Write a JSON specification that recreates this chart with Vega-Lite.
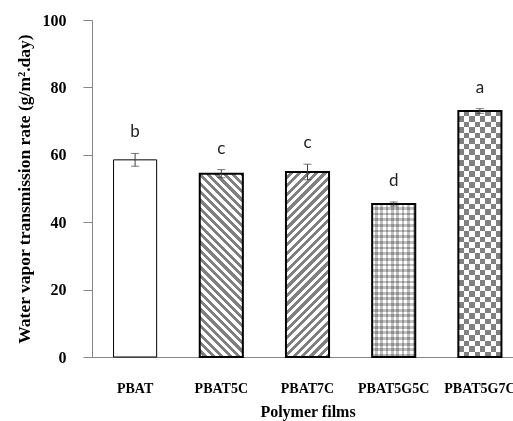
{
  "$schema": "https://vega.github.io/schema/vega-lite/v6.json",
  "width": 431,
  "height": 337,
  "autosize": {"type": "none"},
  "padding": {"left": 92, "top": 20, "right": 0, "bottom": 64},
  "background": "white",
  "config": {
    "view": {"stroke": null},
    "axis": {"grid": false, "domainColor": "#868686", "tickColor": "#868686", "labelColor": "#000", "titleColor": "#000", "labelFont": "Liberation Serif", "labelFontWeight": "bold", "titleFont": "Liberation Serif", "titleFontWeight": "bold"}
  },
  "data": {"values": [
    {"Film": "PBAT", "mean": 58.5, "lower": 56.6, "upper": 60.4, "letter": "b"},
    {"Film": "PBAT5C", "mean": 54.4, "lower": 53.2, "upper": 55.6, "letter": "c"},
    {"Film": "PBAT7C", "mean": 54.9, "lower": 52.6, "upper": 57.2, "letter": "c"},
    {"Film": "PBAT5G5C", "mean": 45.4, "lower": 44.8, "upper": 46.0, "letter": "d"},
    {"Film": "PBAT5G7C", "mean": 73.0, "lower": 72.3, "upper": 73.7, "letter": "a"}
  ]},
  "encoding": {
    "x": {"field": "Film", "type": "nominal", "sort": ["PBAT", "PBAT5C", "PBAT7C", "PBAT5G5C", "PBAT5G7C"], "scale": {"domain": ["PBAT", "PBAT5C", "PBAT7C", "PBAT5G5C", "PBAT5G7C"], "paddingInner": 0.5, "paddingOuter": 0.25},
      "axis": {"title": "Polymer films", "labelAngle": 0, "ticks": false, "tickSize": 0, "labelPadding": 24, "labelFontSize": 14, "titleFontSize": 16, "titlePadding": 8}},
    "y": {"field": "mean", "type": "quantitative", "title": "Water vapor transmission rate (g/m².day)", "scale": {"domain": [0, 100]},
      "axis": {"values": [0, 20, 40, 60, 80, 100], "tickSize": 9, "labelPadding": 17, "labelFontSize": 16, "titleFontSize": 17.5, "titlePadding": 9}}
  },
  "layer": [
    {"transform": [{"filter": "datum.Film === 'PBAT5C'"}],
     "mark": {"type": "bar", "stroke": null, "fill": {"gradient": "linear", "x1": 0, "y1": 1, "x2": 0.2752, "y2": -0.1705, "stops": [
{"offset":0,"color":"#fff"},{"offset":0.0185,"color":"#fff"},{"offset":0.0185,"color":"#808080"},{"offset":0.037,"color":"#808080"},{"offset":0.037,"color":"#fff"},{"offset":0.0556,"color":"#fff"},{"offset":0.0556,"color":"#808080"},{"offset":0.0741,"color":"#808080"},{"offset":0.0741,"color":"#fff"},{"offset":0.0926,"color":"#fff"},{"offset":0.0926,"color":"#808080"},{"offset":0.1111,"color":"#808080"},{"offset":0.1111,"color":"#fff"},{"offset":0.1296,"color":"#fff"},{"offset":0.1296,"color":"#808080"},{"offset":0.1481,"color":"#808080"},{"offset":0.1481,"color":"#fff"},{"offset":0.1667,"color":"#fff"},{"offset":0.1667,"color":"#808080"},{"offset":0.1852,"color":"#808080"},{"offset":0.1852,"color":"#fff"},{"offset":0.2037,"color":"#fff"},{"offset":0.2037,"color":"#808080"},{"offset":0.2222,"color":"#808080"},{"offset":0.2222,"color":"#fff"},{"offset":0.2407,"color":"#fff"},{"offset":0.2407,"color":"#808080"},{"offset":0.2593,"color":"#808080"},{"offset":0.2593,"color":"#fff"},{"offset":0.2778,"color":"#fff"},{"offset":0.2778,"color":"#808080"},{"offset":0.2963,"color":"#808080"},{"offset":0.2963,"color":"#fff"},{"offset":0.3148,"color":"#fff"},{"offset":0.3148,"color":"#808080"},{"offset":0.3333,"color":"#808080"},{"offset":0.3333,"color":"#fff"},{"offset":0.3519,"color":"#fff"},{"offset":0.3519,"color":"#808080"},{"offset":0.3704,"color":"#808080"},{"offset":0.3704,"color":"#fff"},{"offset":0.3889,"color":"#fff"},{"offset":0.3889,"color":"#808080"},{"offset":0.4074,"color":"#808080"},{"offset":0.4074,"color":"#fff"},{"offset":0.4259,"color":"#fff"},{"offset":0.4259,"color":"#808080"},{"offset":0.4444,"color":"#808080"},{"offset":0.4444,"color":"#fff"},{"offset":0.463,"color":"#fff"},{"offset":0.463,"color":"#808080"},{"offset":0.4815,"color":"#808080"},{"offset":0.4815,"color":"#fff"},{"offset":0.5,"color":"#fff"},{"offset":0.5,"color":"#808080"},{"offset":0.5185,"color":"#808080"},{"offset":0.5185,"color":"#fff"},{"offset":0.537,"color":"#fff"},{"offset":0.537,"color":"#808080"},{"offset":0.5556,"color":"#808080"},{"offset":0.5556,"color":"#fff"},{"offset":0.5741,"color":"#fff"},{"offset":0.5741,"color":"#808080"},{"offset":0.5926,"color":"#808080"},{"offset":0.5926,"color":"#fff"},{"offset":0.6111,"color":"#fff"},{"offset":0.6111,"color":"#808080"},{"offset":0.6296,"color":"#808080"},{"offset":0.6296,"color":"#fff"},{"offset":0.6481,"color":"#fff"},{"offset":0.6481,"color":"#808080"},{"offset":0.6667,"color":"#808080"},{"offset":0.6667,"color":"#fff"},{"offset":0.6852,"color":"#fff"},{"offset":0.6852,"color":"#808080"},{"offset":0.7037,"color":"#808080"},{"offset":0.7037,"color":"#fff"},{"offset":0.7222,"color":"#fff"},{"offset":0.7222,"color":"#808080"},{"offset":0.7407,"color":"#808080"},{"offset":0.7407,"color":"#fff"},{"offset":0.7593,"color":"#fff"},{"offset":0.7593,"color":"#808080"},{"offset":0.7778,"color":"#808080"},{"offset":0.7778,"color":"#fff"},{"offset":0.7963,"color":"#fff"},{"offset":0.7963,"color":"#808080"},{"offset":0.8148,"color":"#808080"},{"offset":0.8148,"color":"#fff"},{"offset":0.8333,"color":"#fff"},{"offset":0.8333,"color":"#808080"},{"offset":0.8519,"color":"#808080"},{"offset":0.8519,"color":"#fff"},{"offset":0.8704,"color":"#fff"},{"offset":0.8704,"color":"#808080"},{"offset":0.8889,"color":"#808080"},{"offset":0.8889,"color":"#fff"},{"offset":0.9074,"color":"#fff"},{"offset":0.9074,"color":"#808080"},{"offset":0.9259,"color":"#808080"},{"offset":0.9259,"color":"#fff"},{"offset":0.9444,"color":"#fff"},{"offset":0.9444,"color":"#808080"},{"offset":0.963,"color":"#808080"},{"offset":0.963,"color":"#fff"},{"offset":0.9815,"color":"#fff"},{"offset":0.9815,"color":"#808080"},{"offset":1,"color":"#808080"}
     ]}}},
    {"transform": [{"filter": "datum.Film === 'PBAT7C'"}],
     "mark": {"type": "bar", "stroke": null, "fill": {"gradient": "linear", "x1": 0, "y1": 0, "x2": 0.2725, "y2": 1.1695, "stops": [
{"offset":0,"color":"#fff"},{"offset":0.0185,"color":"#fff"},{"offset":0.0185,"color":"#808080"},{"offset":0.037,"color":"#808080"},{"offset":0.037,"color":"#fff"},{"offset":0.0556,"color":"#fff"},{"offset":0.0556,"color":"#808080"},{"offset":0.0741,"color":"#808080"},{"offset":0.0741,"color":"#fff"},{"offset":0.0926,"color":"#fff"},{"offset":0.0926,"color":"#808080"},{"offset":0.1111,"color":"#808080"},{"offset":0.1111,"color":"#fff"},{"offset":0.1296,"color":"#fff"},{"offset":0.1296,"color":"#808080"},{"offset":0.1481,"color":"#808080"},{"offset":0.1481,"color":"#fff"},{"offset":0.1667,"color":"#fff"},{"offset":0.1667,"color":"#808080"},{"offset":0.1852,"color":"#808080"},{"offset":0.1852,"color":"#fff"},{"offset":0.2037,"color":"#fff"},{"offset":0.2037,"color":"#808080"},{"offset":0.2222,"color":"#808080"},{"offset":0.2222,"color":"#fff"},{"offset":0.2407,"color":"#fff"},{"offset":0.2407,"color":"#808080"},{"offset":0.2593,"color":"#808080"},{"offset":0.2593,"color":"#fff"},{"offset":0.2778,"color":"#fff"},{"offset":0.2778,"color":"#808080"},{"offset":0.2963,"color":"#808080"},{"offset":0.2963,"color":"#fff"},{"offset":0.3148,"color":"#fff"},{"offset":0.3148,"color":"#808080"},{"offset":0.3333,"color":"#808080"},{"offset":0.3333,"color":"#fff"},{"offset":0.3519,"color":"#fff"},{"offset":0.3519,"color":"#808080"},{"offset":0.3704,"color":"#808080"},{"offset":0.3704,"color":"#fff"},{"offset":0.3889,"color":"#fff"},{"offset":0.3889,"color":"#808080"},{"offset":0.4074,"color":"#808080"},{"offset":0.4074,"color":"#fff"},{"offset":0.4259,"color":"#fff"},{"offset":0.4259,"color":"#808080"},{"offset":0.4444,"color":"#808080"},{"offset":0.4444,"color":"#fff"},{"offset":0.463,"color":"#fff"},{"offset":0.463,"color":"#808080"},{"offset":0.4815,"color":"#808080"},{"offset":0.4815,"color":"#fff"},{"offset":0.5,"color":"#fff"},{"offset":0.5,"color":"#808080"},{"offset":0.5185,"color":"#808080"},{"offset":0.5185,"color":"#fff"},{"offset":0.537,"color":"#fff"},{"offset":0.537,"color":"#808080"},{"offset":0.5556,"color":"#808080"},{"offset":0.5556,"color":"#fff"},{"offset":0.5741,"color":"#fff"},{"offset":0.5741,"color":"#808080"},{"offset":0.5926,"color":"#808080"},{"offset":0.5926,"color":"#fff"},{"offset":0.6111,"color":"#fff"},{"offset":0.6111,"color":"#808080"},{"offset":0.6296,"color":"#808080"},{"offset":0.6296,"color":"#fff"},{"offset":0.6481,"color":"#fff"},{"offset":0.6481,"color":"#808080"},{"offset":0.6667,"color":"#808080"},{"offset":0.6667,"color":"#fff"},{"offset":0.6852,"color":"#fff"},{"offset":0.6852,"color":"#808080"},{"offset":0.7037,"color":"#808080"},{"offset":0.7037,"color":"#fff"},{"offset":0.7222,"color":"#fff"},{"offset":0.7222,"color":"#808080"},{"offset":0.7407,"color":"#808080"},{"offset":0.7407,"color":"#fff"},{"offset":0.7593,"color":"#fff"},{"offset":0.7593,"color":"#808080"},{"offset":0.7778,"color":"#808080"},{"offset":0.7778,"color":"#fff"},{"offset":0.7963,"color":"#fff"},{"offset":0.7963,"color":"#808080"},{"offset":0.8148,"color":"#808080"},{"offset":0.8148,"color":"#fff"},{"offset":0.8333,"color":"#fff"},{"offset":0.8333,"color":"#808080"},{"offset":0.8519,"color":"#808080"},{"offset":0.8519,"color":"#fff"},{"offset":0.8704,"color":"#fff"},{"offset":0.8704,"color":"#808080"},{"offset":0.8889,"color":"#808080"},{"offset":0.8889,"color":"#fff"},{"offset":0.9074,"color":"#fff"},{"offset":0.9074,"color":"#808080"},{"offset":0.9259,"color":"#808080"},{"offset":0.9259,"color":"#fff"},{"offset":0.9444,"color":"#fff"},{"offset":0.9444,"color":"#808080"},{"offset":0.963,"color":"#808080"},{"offset":0.963,"color":"#fff"},{"offset":0.9815,"color":"#fff"},{"offset":0.9815,"color":"#808080"},{"offset":1,"color":"#808080"}
     ]}}},
    {"transform": [{"filter": "datum.Film === 'PBAT5G5C'"}],
     "mark": {"type": "bar", "stroke": null, "fill": {"gradient": "linear", "x1": 0, "y1": 0, "x2": 1, "y2": 0, "stops": [
{"offset":0,"color":"#fff"},{"offset":0.0625,"color":"#fff"},{"offset":0.0625,"color":"#c0c0c0"},{"offset":0.125,"color":"#c0c0c0"},{"offset":0.125,"color":"#fff"},{"offset":0.1875,"color":"#fff"},{"offset":0.1875,"color":"#c0c0c0"},{"offset":0.25,"color":"#c0c0c0"},{"offset":0.25,"color":"#fff"},{"offset":0.3125,"color":"#fff"},{"offset":0.3125,"color":"#c0c0c0"},{"offset":0.375,"color":"#c0c0c0"},{"offset":0.375,"color":"#fff"},{"offset":0.4375,"color":"#fff"},{"offset":0.4375,"color":"#c0c0c0"},{"offset":0.5,"color":"#c0c0c0"},{"offset":0.5,"color":"#fff"},{"offset":0.5625,"color":"#fff"},{"offset":0.5625,"color":"#c0c0c0"},{"offset":0.625,"color":"#c0c0c0"},{"offset":0.625,"color":"#fff"},{"offset":0.6875,"color":"#fff"},{"offset":0.6875,"color":"#c0c0c0"},{"offset":0.75,"color":"#c0c0c0"},{"offset":0.75,"color":"#fff"},{"offset":0.8125,"color":"#fff"},{"offset":0.8125,"color":"#c0c0c0"},{"offset":0.875,"color":"#c0c0c0"},{"offset":0.875,"color":"#fff"},{"offset":0.9375,"color":"#fff"},{"offset":0.9375,"color":"#c0c0c0"},{"offset":1,"color":"#c0c0c0"}
     ]}}},
    {"transform": [{"filter": "datum.Film === 'PBAT5G5C'"}],
     "mark": {"type": "bar", "stroke": null, "blend": "multiply", "fill": {"gradient": "linear", "x1": 0, "y1": 0, "x2": 0, "y2": 1, "stops": [
{"offset":0,"color":"#fff"},{"offset":0.0185,"color":"#fff"},{"offset":0.0185,"color":"#c0c0c0"},{"offset":0.037,"color":"#c0c0c0"},{"offset":0.037,"color":"#fff"},{"offset":0.0556,"color":"#fff"},{"offset":0.0556,"color":"#c0c0c0"},{"offset":0.0741,"color":"#c0c0c0"},{"offset":0.0741,"color":"#fff"},{"offset":0.0926,"color":"#fff"},{"offset":0.0926,"color":"#c0c0c0"},{"offset":0.1111,"color":"#c0c0c0"},{"offset":0.1111,"color":"#fff"},{"offset":0.1296,"color":"#fff"},{"offset":0.1296,"color":"#c0c0c0"},{"offset":0.1481,"color":"#c0c0c0"},{"offset":0.1481,"color":"#fff"},{"offset":0.1667,"color":"#fff"},{"offset":0.1667,"color":"#c0c0c0"},{"offset":0.1852,"color":"#c0c0c0"},{"offset":0.1852,"color":"#fff"},{"offset":0.2037,"color":"#fff"},{"offset":0.2037,"color":"#c0c0c0"},{"offset":0.2222,"color":"#c0c0c0"},{"offset":0.2222,"color":"#fff"},{"offset":0.2407,"color":"#fff"},{"offset":0.2407,"color":"#c0c0c0"},{"offset":0.2593,"color":"#c0c0c0"},{"offset":0.2593,"color":"#fff"},{"offset":0.2778,"color":"#fff"},{"offset":0.2778,"color":"#c0c0c0"},{"offset":0.2963,"color":"#c0c0c0"},{"offset":0.2963,"color":"#fff"},{"offset":0.3148,"color":"#fff"},{"offset":0.3148,"color":"#c0c0c0"},{"offset":0.3333,"color":"#c0c0c0"},{"offset":0.3333,"color":"#fff"},{"offset":0.3519,"color":"#fff"},{"offset":0.3519,"color":"#c0c0c0"},{"offset":0.3704,"color":"#c0c0c0"},{"offset":0.3704,"color":"#fff"},{"offset":0.3889,"color":"#fff"},{"offset":0.3889,"color":"#c0c0c0"},{"offset":0.4074,"color":"#c0c0c0"},{"offset":0.4074,"color":"#fff"},{"offset":0.4259,"color":"#fff"},{"offset":0.4259,"color":"#c0c0c0"},{"offset":0.4444,"color":"#c0c0c0"},{"offset":0.4444,"color":"#fff"},{"offset":0.463,"color":"#fff"},{"offset":0.463,"color":"#c0c0c0"},{"offset":0.4815,"color":"#c0c0c0"},{"offset":0.4815,"color":"#fff"},{"offset":0.5,"color":"#fff"},{"offset":0.5,"color":"#c0c0c0"},{"offset":0.5185,"color":"#c0c0c0"},{"offset":0.5185,"color":"#fff"},{"offset":0.537,"color":"#fff"},{"offset":0.537,"color":"#c0c0c0"},{"offset":0.5556,"color":"#c0c0c0"},{"offset":0.5556,"color":"#fff"},{"offset":0.5741,"color":"#fff"},{"offset":0.5741,"color":"#c0c0c0"},{"offset":0.5926,"color":"#c0c0c0"},{"offset":0.5926,"color":"#fff"},{"offset":0.6111,"color":"#fff"},{"offset":0.6111,"color":"#c0c0c0"},{"offset":0.6296,"color":"#c0c0c0"},{"offset":0.6296,"color":"#fff"},{"offset":0.6481,"color":"#fff"},{"offset":0.6481,"color":"#c0c0c0"},{"offset":0.6667,"color":"#c0c0c0"},{"offset":0.6667,"color":"#fff"},{"offset":0.6852,"color":"#fff"},{"offset":0.6852,"color":"#c0c0c0"},{"offset":0.7037,"color":"#c0c0c0"},{"offset":0.7037,"color":"#fff"},{"offset":0.7222,"color":"#fff"},{"offset":0.7222,"color":"#c0c0c0"},{"offset":0.7407,"color":"#c0c0c0"},{"offset":0.7407,"color":"#fff"},{"offset":0.7593,"color":"#fff"},{"offset":0.7593,"color":"#c0c0c0"},{"offset":0.7778,"color":"#c0c0c0"},{"offset":0.7778,"color":"#fff"},{"offset":0.7963,"color":"#fff"},{"offset":0.7963,"color":"#c0c0c0"},{"offset":0.8148,"color":"#c0c0c0"},{"offset":0.8148,"color":"#fff"},{"offset":0.8333,"color":"#fff"},{"offset":0.8333,"color":"#c0c0c0"},{"offset":0.8519,"color":"#c0c0c0"},{"offset":0.8519,"color":"#fff"},{"offset":0.8704,"color":"#fff"},{"offset":0.8704,"color":"#c0c0c0"},{"offset":0.8889,"color":"#c0c0c0"},{"offset":0.8889,"color":"#fff"},{"offset":0.9074,"color":"#fff"},{"offset":0.9074,"color":"#c0c0c0"},{"offset":0.9259,"color":"#c0c0c0"},{"offset":0.9259,"color":"#fff"},{"offset":0.9444,"color":"#fff"},{"offset":0.9444,"color":"#c0c0c0"},{"offset":0.963,"color":"#c0c0c0"},{"offset":0.963,"color":"#fff"},{"offset":0.9815,"color":"#fff"},{"offset":0.9815,"color":"#c0c0c0"},{"offset":1,"color":"#c0c0c0"}
     ]}}},
    {"transform": [{"filter": "datum.Film === 'PBAT5G7C'"}],
     "mark": {"type": "bar", "stroke": null, "fill": {"gradient": "linear", "x1": 0, "y1": 0, "x2": 1, "y2": 0, "stops": [
{"offset":0,"color":"#fff"},{"offset":0.125,"color":"#fff"},{"offset":0.125,"color":"#000"},{"offset":0.25,"color":"#000"},{"offset":0.25,"color":"#fff"},{"offset":0.375,"color":"#fff"},{"offset":0.375,"color":"#000"},{"offset":0.5,"color":"#000"},{"offset":0.5,"color":"#fff"},{"offset":0.625,"color":"#fff"},{"offset":0.625,"color":"#000"},{"offset":0.75,"color":"#000"},{"offset":0.75,"color":"#fff"},{"offset":0.875,"color":"#fff"},{"offset":0.875,"color":"#000"},{"offset":1,"color":"#000"}
     ]}}},
    {"transform": [{"filter": "datum.Film === 'PBAT5G7C'"}],
     "mark": {"type": "bar", "stroke": null, "blend": "difference", "fill": {"gradient": "linear", "x1": 0, "y1": 0, "x2": 0, "y2": 1, "stops": [
{"offset":0,"color":"#000"},{"offset":0.0222,"color":"#000"},{"offset":0.0222,"color":"#fff"},{"offset":0.0444,"color":"#fff"},{"offset":0.0444,"color":"#000"},{"offset":0.0667,"color":"#000"},{"offset":0.0667,"color":"#fff"},{"offset":0.0889,"color":"#fff"},{"offset":0.0889,"color":"#000"},{"offset":0.1111,"color":"#000"},{"offset":0.1111,"color":"#fff"},{"offset":0.1333,"color":"#fff"},{"offset":0.1333,"color":"#000"},{"offset":0.1556,"color":"#000"},{"offset":0.1556,"color":"#fff"},{"offset":0.1778,"color":"#fff"},{"offset":0.1778,"color":"#000"},{"offset":0.2,"color":"#000"},{"offset":0.2,"color":"#fff"},{"offset":0.2222,"color":"#fff"},{"offset":0.2222,"color":"#000"},{"offset":0.2444,"color":"#000"},{"offset":0.2444,"color":"#fff"},{"offset":0.2667,"color":"#fff"},{"offset":0.2667,"color":"#000"},{"offset":0.2889,"color":"#000"},{"offset":0.2889,"color":"#fff"},{"offset":0.3111,"color":"#fff"},{"offset":0.3111,"color":"#000"},{"offset":0.3333,"color":"#000"},{"offset":0.3333,"color":"#fff"},{"offset":0.3556,"color":"#fff"},{"offset":0.3556,"color":"#000"},{"offset":0.3778,"color":"#000"},{"offset":0.3778,"color":"#fff"},{"offset":0.4,"color":"#fff"},{"offset":0.4,"color":"#000"},{"offset":0.4222,"color":"#000"},{"offset":0.4222,"color":"#fff"},{"offset":0.4444,"color":"#fff"},{"offset":0.4444,"color":"#000"},{"offset":0.4667,"color":"#000"},{"offset":0.4667,"color":"#fff"},{"offset":0.4889,"color":"#fff"},{"offset":0.4889,"color":"#000"},{"offset":0.5111,"color":"#000"},{"offset":0.5111,"color":"#fff"},{"offset":0.5333,"color":"#fff"},{"offset":0.5333,"color":"#000"},{"offset":0.5556,"color":"#000"},{"offset":0.5556,"color":"#fff"},{"offset":0.5778,"color":"#fff"},{"offset":0.5778,"color":"#000"},{"offset":0.6,"color":"#000"},{"offset":0.6,"color":"#fff"},{"offset":0.6222,"color":"#fff"},{"offset":0.6222,"color":"#000"},{"offset":0.6444,"color":"#000"},{"offset":0.6444,"color":"#fff"},{"offset":0.6667,"color":"#fff"},{"offset":0.6667,"color":"#000"},{"offset":0.6889,"color":"#000"},{"offset":0.6889,"color":"#fff"},{"offset":0.7111,"color":"#fff"},{"offset":0.7111,"color":"#000"},{"offset":0.7333,"color":"#000"},{"offset":0.7333,"color":"#fff"},{"offset":0.7556,"color":"#fff"},{"offset":0.7556,"color":"#000"},{"offset":0.7778,"color":"#000"},{"offset":0.7778,"color":"#fff"},{"offset":0.8,"color":"#fff"},{"offset":0.8,"color":"#000"},{"offset":0.8222,"color":"#000"},{"offset":0.8222,"color":"#fff"},{"offset":0.8444,"color":"#fff"},{"offset":0.8444,"color":"#000"},{"offset":0.8667,"color":"#000"},{"offset":0.8667,"color":"#fff"},{"offset":0.8889,"color":"#fff"},{"offset":0.8889,"color":"#000"},{"offset":0.9111,"color":"#000"},{"offset":0.9111,"color":"#fff"},{"offset":0.9333,"color":"#fff"},{"offset":0.9333,"color":"#000"},{"offset":0.9556,"color":"#000"},{"offset":0.9556,"color":"#fff"},{"offset":0.9778,"color":"#fff"},{"offset":0.9778,"color":"#000"},{"offset":1,"color":"#000"}
     ]}}},
    {"transform": [{"filter": "datum.Film === 'PBAT5G7C'"}],
     "mark": {"type": "bar", "stroke": null, "fill": "#fff", "fillOpacity": 0.5}},
    {"mark": {"type": "bar", "filled": false, "stroke": "#000"},
     "encoding": {"strokeWidth": {"condition": {"test": "datum.Film === 'PBAT'", "value": 1}, "value": 2}}},
    {"mark": {"type": "rule", "color": "#404040", "strokeWidth": 1},
     "encoding": {"y": {"field": "lower", "type": "quantitative", "title": "Water vapor transmission rate (g/m².day)"}, "y2": {"field": "upper"}}},
    {"mark": {"type": "tick", "color": "#404040", "size": 8, "thickness": 1},
     "encoding": {"y": {"field": "lower", "type": "quantitative", "title": "Water vapor transmission rate (g/m².day)"}}},
    {"mark": {"type": "tick", "color": "#404040", "size": 8, "thickness": 1},
     "encoding": {"y": {"field": "upper", "type": "quantitative", "title": "Water vapor transmission rate (g/m².day)"}}},
    {"mark": {"type": "text", "font": "Lato", "fontSize": 17, "dy": -21, "baseline": "middle", "color": "#222"},
     "encoding": {"y": {"field": "upper", "type": "quantitative", "title": "Water vapor transmission rate (g/m².day)"}, "text": {"field": "letter"}}}
  ]
}
